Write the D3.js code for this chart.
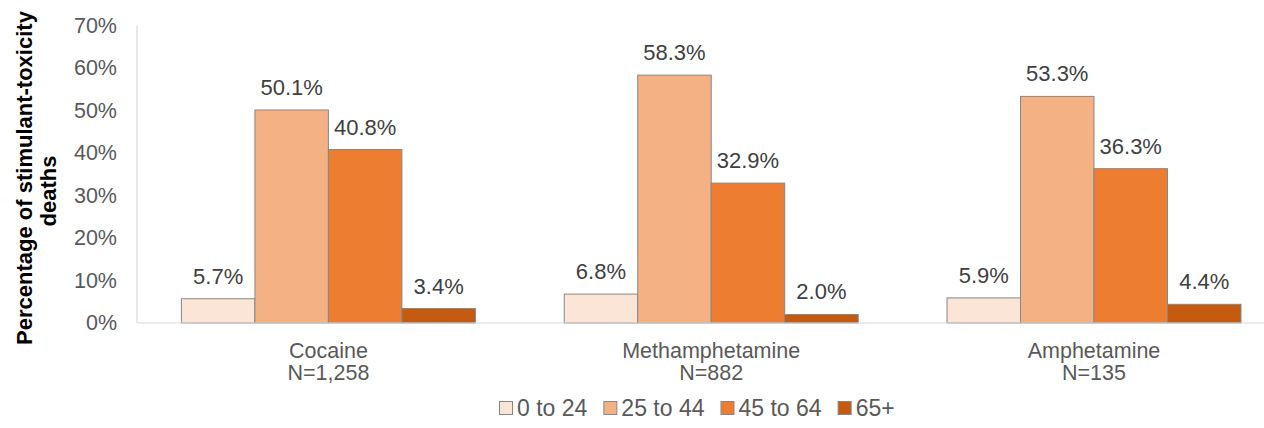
<!DOCTYPE html>
<html>
<head>
<meta charset="utf-8">
<script src="https://cdn.jsdelivr.net/npm/d3@7"></script>
<style>
  html, body { margin: 0; padding: 0; background: #fff; }
  svg { display: block; font-family: "Liberation Sans", Arial, sans-serif; }
</style>
</head>
<body>
<svg id="chart" width="1264" height="428"></svg>
<script>
const categories = ["Cocaine", "Methamphetamine", "Amphetamine"];
const categoryN = ["N=1,258", "N=882", "N=135"];
const seriesNames = ["0 to 24", "25 to 44", "45 to 64", "65+"];
const age0to24 = [5.7, 6.8, 5.9];
const age25to44 = [50.1, 58.3, 53.3];
const age45to64 = [40.8, 32.9, 36.3];
const age65plus = [3.4, 2.0, 4.4];
const yTicks = [0, 10, 20, 30, 40, 50, 60, 70];
const yTitleLines = ["Percentage of stimulant-toxicity", "deaths"];

const seriesValues = [age0to24, age25to44, age45to64, age65plus];
const colors = ["#fbe5d6", "#f4b183", "#ed7d31", "#c55a11"];

const svg = d3.select("#chart");
const plotLeft = 137, plotTop = 25.4, plotBottom = 323, step = 382.8;
const plotRight = plotLeft + step * 3;
const fs = 21.5;

const x0 = d3.scaleBand().domain(categories).range([plotLeft, plotRight])
  .paddingInner(0.232).paddingOuter(0.116);
const x1 = d3.scaleBand().domain(seriesNames).range([0, x0.bandwidth()]).padding(0);
const y = d3.scaleLinear().domain([0, 70]).range([plotBottom, plotTop]);

// y axis tick labels
const yAxis = d3.axisLeft(y).tickValues(yTicks).tickFormat(d => d + "%").tickSize(0).tickPadding(20);
const ya = svg.append("g").attr("transform", `translate(${plotLeft},0)`).call(yAxis);
ya.select(".domain").remove();
ya.selectAll("text").attr("font-size", fs).attr("fill", "#595959")
  .attr("font-family", "Liberation Sans, Arial, sans-serif");

// axis lines
svg.append("line").attr("x1", plotLeft).attr("x2", plotLeft).attr("y1", plotTop).attr("y2", plotBottom)
  .attr("stroke", "#d9d9d9").attr("stroke-width", 1.2);

// bars
const groups = svg.append("g").selectAll("g").data(categories).join("g")
  .attr("transform", d => `translate(${x0(d)},0)`);
groups.selectAll("rect")
  .data((c, ci) => seriesNames.map((s, si) => ({ s, si, v: seriesValues[si][ci] })))
  .join("rect")
  .attr("x", d => x1(d.s))
  .attr("y", d => y(d.v))
  .attr("width", x1.bandwidth())
  .attr("height", d => y(0) - y(d.v))
  .attr("fill", d => colors[d.si])
  .attr("stroke", "#878787").attr("stroke-width", 1);
groups.selectAll("text.lbl")
  .data((c, ci) => seriesNames.map((s, si) => ({ s, si, v: seriesValues[si][ci] })))
  .join("text").attr("class", "lbl")
  .attr("x", d => x1(d.s) + x1.bandwidth() / 2)
  .attr("y", d => y(d.v) - 15)
  .attr("text-anchor", "middle")
  .attr("font-size", 22).attr("fill", "#404040")
  .text(d => d.v.toFixed(1) + "%");

svg.append("line").attr("x1", plotLeft).attr("x2", plotRight).attr("y1", plotBottom).attr("y2", plotBottom)
  .attr("stroke", "#d9d9d9").attr("stroke-width", 1.2);

// category labels
const xa = svg.append("g");
categories.forEach((c, i) => {
  const cx = x0(c) + x0.bandwidth() / 2;
  const t = xa.append("text").attr("x", cx).attr("y", 358).attr("text-anchor", "middle")
    .attr("font-size", fs).attr("fill", "#595959");
  t.append("tspan").attr("x", cx).text(c);
  t.append("tspan").attr("x", cx).attr("y", 380).text(categoryN[i]);
});

// y title
const yt = svg.append("text")
  .attr("transform", `rotate(-90)`)
  .attr("text-anchor", "middle").attr("font-size", 22).attr("font-weight", "bold").attr("fill", "#000");
yt.append("tspan").attr("x", -178).attr("y", 32).text(yTitleLines[0]);
yt.append("tspan").attr("x", -191).attr("y", 56).text(yTitleLines[1]);

// legend
const legend = svg.append("g").attr("transform", "translate(499,408)");
let lx = 0;
seriesNames.forEach((s, i) => {
  const g = legend.append("g").attr("transform", `translate(${lx},0)`);
  g.append("rect").attr("x", 0.5).attr("y", -6.5).attr("width", 13).attr("height", 13)
    .attr("fill", colors[i]).attr("stroke", "#878787").attr("stroke-width", 1);
  const t = g.append("text").attr("x", 18).attr("y", 8).attr("font-size", 23).attr("fill", "#595959").text(s);
  lx += 18 + t.node().getComputedTextLength() + 16;
});
</script>
</body>
</html>
